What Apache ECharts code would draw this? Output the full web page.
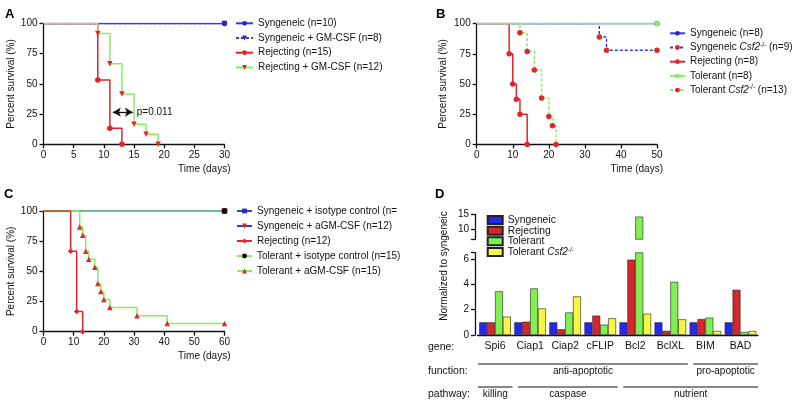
<!DOCTYPE html>
<html><head><meta charset="utf-8">
<script src="https://cdn.jsdelivr.net/npm/echarts@6/dist/echarts.min.js"></script>
<style>html,body{margin:0;padding:0;background:#fff}#c{width:800px;height:406px}</style>
</head><body><div id="c"></div>
<script>
// ---------- Panel A ----------
const aSynT = [0, 30],               aSynS = [100, 100];
const aSynGmT = [0, 30],             aSynGmS = [100, 100];
const aRejT = [0, 9, 11, 13],        aRejS = [100, 53.3, 13.3, 0];
const aRejGmT = [0, 9, 11, 13, 15, 17, 19];
const aRejGmS = [100, 91.7, 66.7, 41.7, 16.7, 8.3, 0];
const aPText = 'p=0.011';
const aPFrom = [11.5, 26.6], aPTo = [14.8, 26.6];
// ---------- Panel B ----------
const bSynT = [0, 50],               bSynS = [100, 100];
const bSynCsfT = [0, 34, 36, 50],    bSynCsfS = [100, 88.9, 77.8, 77.8];
const bRejT = [0, 9, 10, 11, 12, 14], bRejS = [100, 75, 50, 37.5, 25, 0];
const bTolT = [0, 50],               bTolS = [100, 100];
const bTolCsfT = [0, 12, 14, 16, 18, 20, 21, 22];
const bTolCsfS = [100, 92.3, 76.9, 61.5, 38.5, 23.1, 15.4, 0];
// ---------- Panel C ----------
const cSynIsoT = [0, 60],            cSynIsoS = [100, 100];
const cSynGmT = [0, 60],             cSynGmS = [100, 100];
const cRejT = [0, 9, 11, 13],        cRejS = [100, 66.7, 16.7, 0];
const cTolIsoT = [0, 60],            cTolIsoS = [100, 100];
const cTolGmT = [0, 12, 13, 14, 15, 17, 18, 19, 20, 22, 31, 41, 60];
const cTolGmS = [100, 86.7, 80, 66.7, 60, 53.3, 40, 33.3, 26.7, 20, 13.3, 6.7, 6.7];
// ---------- Panel D ----------
const genes = ['Spi6', 'Ciap1', 'Ciap2', 'cFLIP', 'Bcl2', 'BclXL', 'BIM', 'BAD'];
const dSyngeneic = [1, 1, 1, 1, 1, 1, 1, 1];
const dRejecting = [1, 1.05, 0.45, 1.53, 5.95, 0.33, 1.26, 3.57];
const dTolerant = [3.45, 3.68, 1.78, 0.82, 14.2, 4.2, 1.37, 0.24];
const dTolerantCsf2 = [1.45, 2.1, 3.05, 1.32, 1.68, 1.24, 0.32, 0.31];
const dSeriesNames = ['Syngeneic', 'Rejecting', 'Tolerant', 'Tolerant Csf2-/-'];
const dBreak = 6.5, dUpperMax = 15;
const dLowerTicks = [0, 2, 4, 6], dUpperTicks = [10, 15];
const functionGroups = [['anti-apoptotic', 0, 5], ['pro-apoptotic', 6, 7]];
const pathwayGroups = [['killing', 0, 0], ['caspase', 1, 3], ['nutrient', 4, 7]];
const rowLabels = ['gene:', 'function:', 'pathway:'];

const FONT = 'Liberation Sans, Arial, Helvetica, sans-serif';
const TXT = '#111';
const BLUE = '#3b3bd4', RED = '#e0262c', GREEN = '#86f05c', BLACK = '#111';
const barColors = ['#2626f0', '#d8252b', '#80f050', '#f8f640'];

function km(name, t, s, ax, lineColor, markColor, sym, extra) {
  return Object.assign({
    type: 'line', name, xAxisIndex: ax, yAxisIndex: ax, step: 'end',
    data: t.map((x, i) => i === 0 ? { value: [x, s[i]], symbol: 'none' } : [x, s[i]]),
    symbol: sym, symbolSize: 5.5,
    lineStyle: { color: lineColor, width: 1.5, type: 'solid' },
    itemStyle: { color: markColor },
    emphasis: { disabled: true }
  }, extra || {});
}
function dashed(s) { s.lineStyle.type = [3, 2]; return s; }

function valueX(grid, max, interval) {
  return {
    type: 'value', gridIndex: grid, min: 0, max, interval,
    name: 'Time (days)', nameLocation: 'end', nameGap: 6,
    nameTextStyle: { align: 'right', verticalAlign: 'top', padding: [20, 0, 0, 0], fontSize: 10, color: TXT, fontFamily: FONT },
    axisLine: { lineStyle: { color: BLACK, width: 1.3 } },
    axisTick: { length: 4, lineStyle: { color: BLACK, width: 1.3 } },
    axisLabel: { margin: 6, fontSize: 10, color: TXT, fontFamily: FONT },
    splitLine: { show: false }
  };
}
function valueY(grid, gap) {
  return {
    type: 'value', gridIndex: grid, min: 0, max: 100, interval: 25,
    name: 'Percent survival (%)', nameLocation: 'middle', nameGap: gap,
    nameTextStyle: { fontSize: 10, color: TXT, fontFamily: FONT },
    axisLine: { show: true, lineStyle: { color: BLACK, width: 1.3 } },
    axisTick: { show: true, length: 4, lineStyle: { color: BLACK, width: 1.3 } },
    axisLabel: { margin: 6, fontSize: 10, color: TXT, fontFamily: FONT },
    splitLine: { show: false }
  };
}
const rich = {
  i: { fontStyle: 'italic', fontSize: 10, fontFamily: FONT, color: TXT },
  s: { fontSize: 6.5, fontFamily: FONT, color: TXT, verticalAlign: 'top', lineHeight: 8 }
};
const fmt = n => n.replace('Csf2-/-', '{i|Csf2}{s|-/-}');
function legend(left, top, names, gap, w, h) {
  return {
    orient: 'vertical', left, top, itemGap: gap, itemWidth: w, itemHeight: h, padding: 0,
    data: names, formatter: fmt, selectedMode: false,
    textStyle: { fontSize: 10, color: TXT, fontFamily: FONT, lineHeight: 12, rich }
  };
}

const A = [
  km('Syngeneic (n=10)', aSynT, aSynS, 0, BLUE, '#2a2ac0', 'circle'),
  dashed(km('Syngeneic + GM-CSF (n=8)', aSynGmT, aSynGmS, 0, BLUE, '#2a2ac0', 'triangle', { symbolRotate: 180 })),
  km('Rejecting (n=15)', aRejT, aRejS, 0, RED, RED, 'circle', {
    markLine: {
      silent: true, animation: false, symbol: ['arrow', 'arrow'], symbolSize: [7, 8],
      lineStyle: { color: BLACK, width: 1.3, type: 'solid' },
      label: { show: true, position: 'end', formatter: aPText, color: TXT, fontSize: 10, fontFamily: FONT, distance: 4 },
      data: [[{ coord: aPFrom }, { coord: aPTo }]]
    }
  }),
  km('Rejecting + GM-CSF (n=12)', aRejGmT, aRejGmS, 0, GREEN, RED, 'triangle', { symbolRotate: 180 })
];
const B = [
  km('Syngeneic (n=8)', bSynT, bSynS, 1, BLUE, '#2a2ac0', 'circle'),
  dashed(km('Syngeneic Csf2-/- (n=9)', bSynCsfT, bSynCsfS, 1, BLUE, RED, 'circle')),
  km('Rejecting (n=8)', bRejT, bRejS, 1, RED, RED, 'circle'),
  dashed(km('Tolerant Csf2-/- (n=13)', bTolCsfT, bTolCsfS, 1, GREEN, RED, 'circle')),
  km('Tolerant (n=8)', bTolT, bTolS, 1, GREEN, GREEN, 'circle')
];
const C = [
  km('Syngeneic + isotype control (n=12)', cSynIsoT, cSynIsoS, 2, BLUE, '#2a2ac0', 'rect'),
  km('Syngeneic + aGM-CSF (n=12)', cSynGmT, cSynGmS, 2, BLUE, RED, 'triangle', { symbolRotate: 180 }),
  km('Tolerant + isotype control (n=15)', cTolIsoT, cTolIsoS, 2, GREEN, '#000', 'circle'),
  km('Tolerant + aGM-CSF (n=15)', cTolGmT, cTolGmS, 2, GREEN, RED, 'triangle'),
  km('Rejecting (n=12)', cRejT, cRejS, 2, RED, RED, 'diamond')
];
const dVals = [dSyngeneic, dRejecting, dTolerant, dTolerantCsf2];
const D = [];
dVals.forEach((vals, k) => {
  const base = { type: 'bar', name: dSeriesNames[k], barWidth: 7.9, barGap: '0%',
    itemStyle: { color: barColors[k], borderColor: '#222', borderWidth: 0.6 }, emphasis: { disabled: true } };
  D.push(Object.assign({}, base, { xAxisIndex: 3, yAxisIndex: 3, data: vals }));
  D.push(Object.assign({}, base, { xAxisIndex: 4, yAxisIndex: 4, data: vals.map(v => v > dBreak ? v : '-') }));
});

const cLegendNames = ['Syngeneic + isotype control (n=12)', 'Syngeneic + aGM-CSF (n=12)', 'Rejecting (n=12)', 'Tolerant + isotype control (n=15)', 'Tolerant + aGM-CSF (n=15)'];

const chart = echarts.init(document.getElementById('c'), null, { renderer: 'canvas' });
const option = {
  animation: false,
  backgroundColor: '#fff',
  textStyle: { fontFamily: FONT },
  grid: [
    { left: 43.5, top: 23.5, width: 181, height: 120.8 },
    { left: 476.7, top: 23.5, width: 180.3, height: 121 },
    { left: 43.5, top: 211, width: 181, height: 120.7 },
    { left: 477.5, top: 252.7, width: 280.5, height: 82.3 },
    { left: 477.5, top: 214.3, width: 280.5, height: 25 }
  ],
  xAxis: [
    valueX(0, 30, 5), valueX(1, 50, 10), valueX(2, 60, 10),
    { type: 'category', gridIndex: 3, data: genes,
      axisLine: { lineStyle: { color: BLACK, width: 1.3 } }, axisTick: { show: false },
      axisLabel: { margin: 6, fontSize: 10.5, color: TXT, fontFamily: FONT, interval: 0 } },
    { type: 'category', gridIndex: 4, data: genes, show: false }
  ],
  yAxis: [
    valueY(0, 27), valueY(1, 28), valueY(2, 27),
    { type: 'value', gridIndex: 3, min: 0, max: dBreak, offset: 2.5,
      axisLine: { show: true, lineStyle: { color: BLACK, width: 1.3 } },
      axisTick: { show: true, length: 4, customValues: dLowerTicks.concat([dBreak]), lineStyle: { color: BLACK, width: 1.3 } },
      axisLabel: { margin: 6, fontSize: 10, color: TXT, fontFamily: FONT, customValues: dLowerTicks },
      splitLine: { show: false } },
    { type: 'value', gridIndex: 4, min: dBreak, max: dUpperMax, offset: 2.5,
      axisLine: { show: true, lineStyle: { color: BLACK, width: 1.3 } },
      axisTick: { show: true, length: 4, customValues: [dBreak].concat(dUpperTicks), lineStyle: { color: BLACK, width: 1.3 } },
      axisLabel: { margin: 6, fontSize: 10, color: TXT, fontFamily: FONT, customValues: dUpperTicks },
      splitLine: { show: false } }
  ],
  legend: [
    legend(235, 17.3, A.map(s => s.name), 2.7, 17, 6),
    legend(669, 27.3, ['Syngeneic (n=8)', 'Syngeneic Csf2-/- (n=9)', 'Rejecting (n=8)', 'Tolerant (n=8)', 'Tolerant Csf2-/- (n=13)'], 2.2, 15, 6),
    legend(236, 205, cLegendNames.map((n, i) => i === 0 ? { name: n, textStyle: { width: 147, overflow: 'truncate', ellipsis: '' } } : n), 3, 15, 6),
    Object.assign(legend(486.7, 214.8, dSeriesNames, 0, 15, 8), { icon: 'rect', textStyle: { fontSize: 10.3, color: TXT, fontFamily: FONT, lineHeight: 10.6, rich } })
  ],
  series: A.concat(B, C, D)
};
chart.setOption(option);

// annotations (letters, row labels, group lines) positioned from the category axis
const cx = i => chart.convertToPixel({ xAxisIndex: 3 }, i);
const g = [];
[['A', 5, 8], ['B', 436, 8], ['C', 4, 188], ['D', 435, 188]].forEach(([t, x, y]) =>
  g.push({ type: 'text', x, y, style: { text: t, font: 'bold 13px ' + FONT, fill: '#000' } }));
g.push({ type: 'text', x: 444, y: 266, rotation: Math.PI / 2,
  style: { text: 'Normalized to syngeneic', font: '10px ' + FONT, fill: TXT, align: 'center', verticalAlign: 'middle' } });
const rowY = [347, 371.5, 394.5];
rowLabels.forEach((t, i) => g.push({ type: 'text', x: 428, y: rowY[i],
  style: { text: t, font: '10.5px ' + FONT, fill: TXT, verticalAlign: 'middle' } }));
function groups(list, lineY, textY) {
  list.forEach(([t, a, b]) => {
    const x1 = cx(a) - 17 + (a > 0 ? 5 : 0), x2 = cx(b) + 17.5;
    g.push({ type: 'line', shape: { x1, y1: lineY, x2, y2: lineY }, style: { stroke: '#111', lineWidth: 1 } });
    g.push({ type: 'text', x: (x1 + x2) / 2, y: textY,
      style: { text: t, font: '10px ' + FONT, fill: TXT, align: 'center', verticalAlign: 'middle' } });
  });
}
groups(functionGroups, 364, 371.5);
groups(pathwayGroups, 387, 394.5);
chart.setOption({ graphic: g });
</script></body></html>
